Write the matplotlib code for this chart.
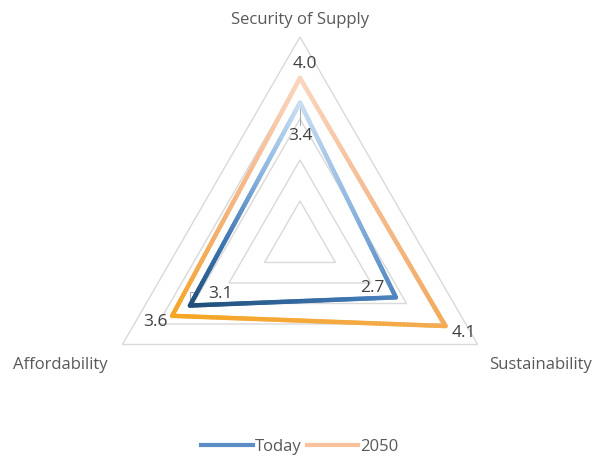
import numpy as np
import matplotlib
matplotlib.use('Agg')
import matplotlib.pyplot as plt
from matplotlib.collections import LineCollection
from matplotlib.colors import LinearSegmentedColormap
from matplotlib.lines import Line2D

# Datos del gráfico radar
categorias = ["Security of Supply", "Sustainability", "Affordability"]
hoy = [3.4, 2.7, 3.1]
v2050 = [4.0, 4.1, 3.6]
series = ["Today", "2050"]
anillos = [1, 2, 3, 4, 5]

TEXTO = "#595959"
NUMEROS = "#404040"
GRID = "#D9D9D9"
plt.rcParams['font.family'] = ['Open Sans', 'DejaVu Sans']

# Ángulos: arriba, abajo-derecha, abajo-izquierda
angulos = np.deg2rad([90, -30, 210])


def a_xy(valores):
    v = np.asarray(valores, dtype=float)
    return v * np.cos(angulos), v * np.sin(angulos)


def linea_degradada(ax, valores, cmap, lw=3.2, inclinacion=20):
    """Dibuja el polígono cerrado con un degradado diagonal de color."""
    x, y = a_xy(valores)
    x = np.append(x, x[0])
    y = np.append(y, y[0])
    pts = []
    for i in range(len(x) - 1):
        s = np.linspace(0, 1, 80)
        pts.append(np.column_stack([x[i] + (x[i + 1] - x[i]) * s,
                                    y[i] + (y[i + 1] - y[i]) * s]))
    pts = np.vstack(pts)
    segs = np.stack([pts[:-1], pts[1:]], axis=1)
    a = np.deg2rad(inclinacion)
    mid = segs.mean(axis=1)
    proy = -mid[:, 1] * np.cos(a) - mid[:, 0] * np.sin(a)
    vproy = -y * np.cos(a) - x * np.sin(a)
    t = (proy - vproy.min()) / (vproy.max() - vproy.min())
    lc = LineCollection(segs, colors=cmap(t), linewidths=lw,
                        capstyle='round', joinstyle='round', zorder=3)
    ax.add_collection(lc)


cmap_hoy = LinearSegmentedColormap.from_list(
    "hoy", ["#C9DEF2", "#8DB6E0", "#3F78B5", "#1F4E79"])
cmap_2050 = LinearSegmentedColormap.from_list(
    "v2050", ["#FAD6C0", "#F6BE98", "#F4AE6A", "#F5A623"])

fig = plt.figure(figsize=(6, 4.59), dpi=100)
ax = fig.add_axes([0, 0, 1, 1])
esc = 41.0  # píxeles por unidad
ax.set_xlim(-300 / esc, 300 / esc)
ax.set_ylim(-217 / esc, 242 / esc)
ax.set_aspect('equal')
ax.axis('off')

# Rejilla triangular
for r in anillos:
    gx, gy = a_xy([r] * 3)
    ax.fill(gx, gy, fill=False, edgecolor=GRID, lw=1.0, zorder=1)

linea_degradada(ax, v2050, cmap_2050, inclinacion=15)
linea_degradada(ax, hoy, cmap_hoy, inclinacion=25)

# Etiquetas de categoría
fc = 12
ax.text(0, 222 / esc, categorias[0], ha='center', va='center',
        fontsize=fc, color=TEXTO)
ax.text(241 / esc, -123 / esc, categorias[1], ha='center', va='center',
        fontsize=fc, color=TEXTO)
ax.text(-240 / esc, -123 / esc, categorias[2], ha='center', va='center',
        fontsize=fc, color=TEXTO)

# Etiquetas de datos
hx, hy = a_xy(hoy)
fx, fy = a_xy(v2050)
fs = 12.5
ax.text(hx[0], hy[0] - 33 / esc, f"{hoy[0]:.1f}", ha='center', va='center',
        fontsize=fs, color=NUMEROS, zorder=4)
ax.plot([hx[0], hx[0]], [hy[0] - 4 / esc, hy[0] - 22 / esc],
        color="#A6A6A6", lw=0.7, zorder=2)
ax.text(hx[1] - 24 / esc, hy[1] + 9 / esc, f"{hoy[1]:.1f}", ha='center',
        va='center', fontsize=fs, color=NUMEROS, zorder=4)
ax.text(hx[2] + 31 / esc, hy[2] + 12 / esc, f"{hoy[2]:.1f}", ha='center',
        va='center', fontsize=fs, color=NUMEROS, zorder=4)
ax.plot([hx[2], hx[2], hx[2] + 5 / esc], [hy[2] + 2 / esc, hy[2] + 14 / esc,
        hy[2] + 14 / esc], color="#A6A6A6", lw=0.7, zorder=2)
ax.text(fx[0] + 5 / esc, fy[0] + 14 / esc, f"{v2050[0]:.1f}", ha='center',
        va='center', fontsize=fs, color=NUMEROS, zorder=4)
ax.text(fx[1] + 18 / esc, fy[1] - 7 / esc, f"{v2050[1]:.1f}", ha='center',
        va='center', fontsize=fs, color=NUMEROS, zorder=4)
ax.text(fx[2] - 17 / esc, fy[2] - 6 / esc, f"{v2050[2]:.1f}", ha='center',
        va='center', fontsize=fs, color=NUMEROS, zorder=4)

# Leyenda
handles = [Line2D([0], [0], color="#5B8CC4", lw=3),
           Line2D([0], [0], color="#F8C29C", lw=3)]
leg = ax.legend(handles, series, loc='center', bbox_to_anchor=(0.5, 12 / 459),
                ncol=2, frameon=False, fontsize=12, handlelength=3.1,
                handletextpad=0.12, columnspacing=0.3)
for t in leg.get_texts():
    t.set_color(TEXTO)

fig.savefig("out.png", dpi=100)
plt.close(fig)
